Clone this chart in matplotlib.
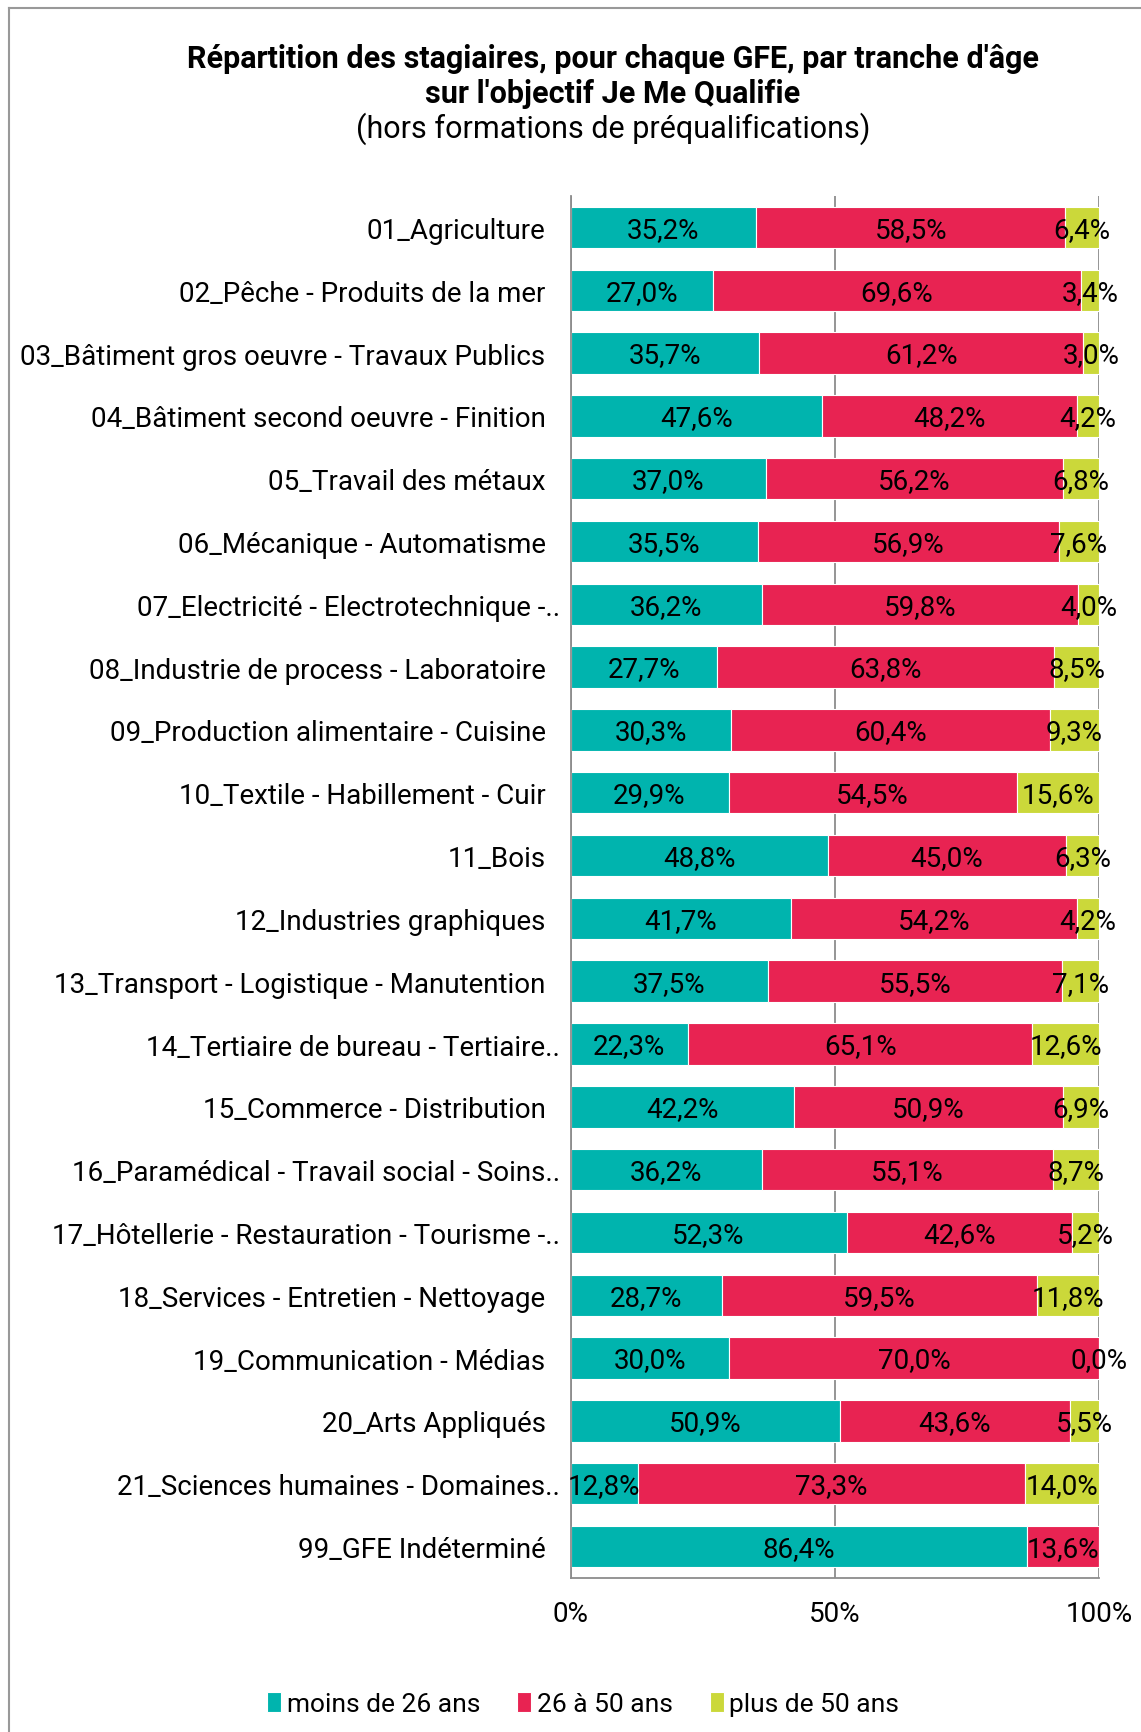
import matplotlib
matplotlib.use("Agg")
import matplotlib.pyplot as plt
import numpy as np

# categories (top to bottom)
categories = [
    "01_Agriculture",
    "02_Pêche - Produits de la mer",
    "03_Bâtiment gros oeuvre - Travaux Publics",
    "04_Bâtiment second oeuvre - Finition",
    "05_Travail des métaux",
    "06_Mécanique - Automatisme",
    "07_Electricité - Electrotechnique -..",
    "08_Industrie de process - Laboratoire",
    "09_Production alimentaire - Cuisine",
    "10_Textile - Habillement - Cuir",
    "11_Bois",
    "12_Industries graphiques",
    "13_Transport - Logistique - Manutention",
    "14_Tertiaire de bureau - Tertiaire..",
    "15_Commerce - Distribution",
    "16_Paramédical - Travail social - Soins..",
    "17_Hôtellerie - Restauration - Tourisme -..",
    "18_Services - Entretien - Nettoyage",
    "19_Communication - Médias",
    "20_Arts Appliqués",
    "21_Sciences humaines - Domaines..",
    "99_GFE Indéterminé",
]
moins_26 = [35.2, 27.0, 35.7, 47.6, 37.0, 35.5, 36.2, 27.7, 30.3, 29.9, 48.8,
            41.7, 37.5, 22.3, 42.2, 36.2, 52.3, 28.7, 30.0, 50.9, 12.8, 86.4]
de_26_50 = [58.5, 69.6, 61.2, 48.2, 56.2, 56.9, 59.8, 63.8, 60.4, 54.5, 45.0,
            54.2, 55.5, 65.1, 50.9, 55.1, 42.6, 59.5, 70.0, 43.6, 73.3, 13.6]
plus_50 = [6.4, 3.4, 3.0, 4.2, 6.8, 7.6, 4.0, 8.5, 9.3, 15.6, 6.3,
           4.2, 7.1, 12.6, 6.9, 8.7, 5.2, 11.8, 0.0, 5.5, 14.0, None]
series_names = ["moins de 26 ans", "26 à 50 ans", "plus de 50 ans"]
colors = ["#00B4AE", "#E82352", "#CBD83A"]

plt.rcParams['font.family'] = ['Roboto', 'DejaVu Sans']
FS = 20

fig = plt.figure(figsize=(11.41, 17.33), dpi=100)
ax = fig.add_axes([0.5, 0.0889, 0.4632, 0.7974])

series = [moins_26, de_26_50, plus_50]
n = len(categories)
y = np.arange(n)
totals = np.array([sum(v for v in vals if v is not None) for vals in zip(*series)])

left = np.zeros(n)
for vals, name, col in zip(series, series_names, colors):
    raw = np.array([np.nan if v is None else v for v in vals])
    w = np.nan_to_num(raw) / totals * 100
    ax.barh(y, w, left=left, height=0.66, color=col, edgecolor='white',
            linewidth=0.8, label=name, zorder=2)
    for i in range(n):
        if np.isnan(raw[i]):
            continue
        txt = ("%.1f%%" % raw[i]).replace('.', ',')
        ax.text(left[i] + w[i] / 2, y[i] + 0.03, txt, ha='center', va='center',
                fontsize=FS, color='black', zorder=3)
    left = left + w

ax.set_xlim(0, 100)
ax.set_ylim(n - 0.5, -0.5)
ax.set_xticks([0, 50, 100])
ax.set_xticklabels(["0%", "50%", "100%"], fontsize=FS)
ax.set_yticks(y)
ax.set_yticklabels(categories, fontsize=FS)
ax.tick_params(axis='both', length=0)
ax.tick_params(axis='y', pad=18)
ax.tick_params(axis='x', pad=16)
for lbl in ax.get_yticklabels():
    if lbl.get_text().endswith('..'):
        lbl.set_x(0.027)

ax.xaxis.grid(True, color='#8C8C8C', linewidth=1.3, zorder=0)
ax.set_axisbelow(True)
for s in ['top', 'right']:
    ax.spines[s].set_visible(False)
ax.spines['left'].set_color('#8C8C8C')
ax.spines['bottom'].set_color('#8C8C8C')
ax.spines['left'].set_linewidth(1.3)
ax.spines['bottom'].set_linewidth(1.3)

# titre
fig.text(0.537, 0.966, "Répartition des stagiaires, pour chaque GFE, par tranche d'âge",
         ha='center', va='center', fontsize=22, fontweight='bold')
fig.text(0.537, 0.946, "sur l'objectif Je Me Qualifie",
         ha='center', va='center', fontsize=22, fontweight='bold')
fig.text(0.537, 0.926, "(hors formations de préqualifications)",
         ha='center', va='center', fontsize=22)

# cadre gris
fig.add_artist(plt.Line2D([0.0075, 0.0075], [0, 0.995], color='#999999',
                          linewidth=1.5, transform=fig.transFigure))
fig.add_artist(plt.Line2D([0.0075, 1.0], [0.995, 0.995], color='#999999',
                          linewidth=1.5, transform=fig.transFigure))

fig.legend(loc='center', bbox_to_anchor=(0.511, 0.016), ncol=3, frameon=False,
           fontsize=19, handlelength=0.55, handleheight=0.8, handletextpad=0.2,
           columnspacing=1.4)

fig.savefig("out.png", dpi=100)
